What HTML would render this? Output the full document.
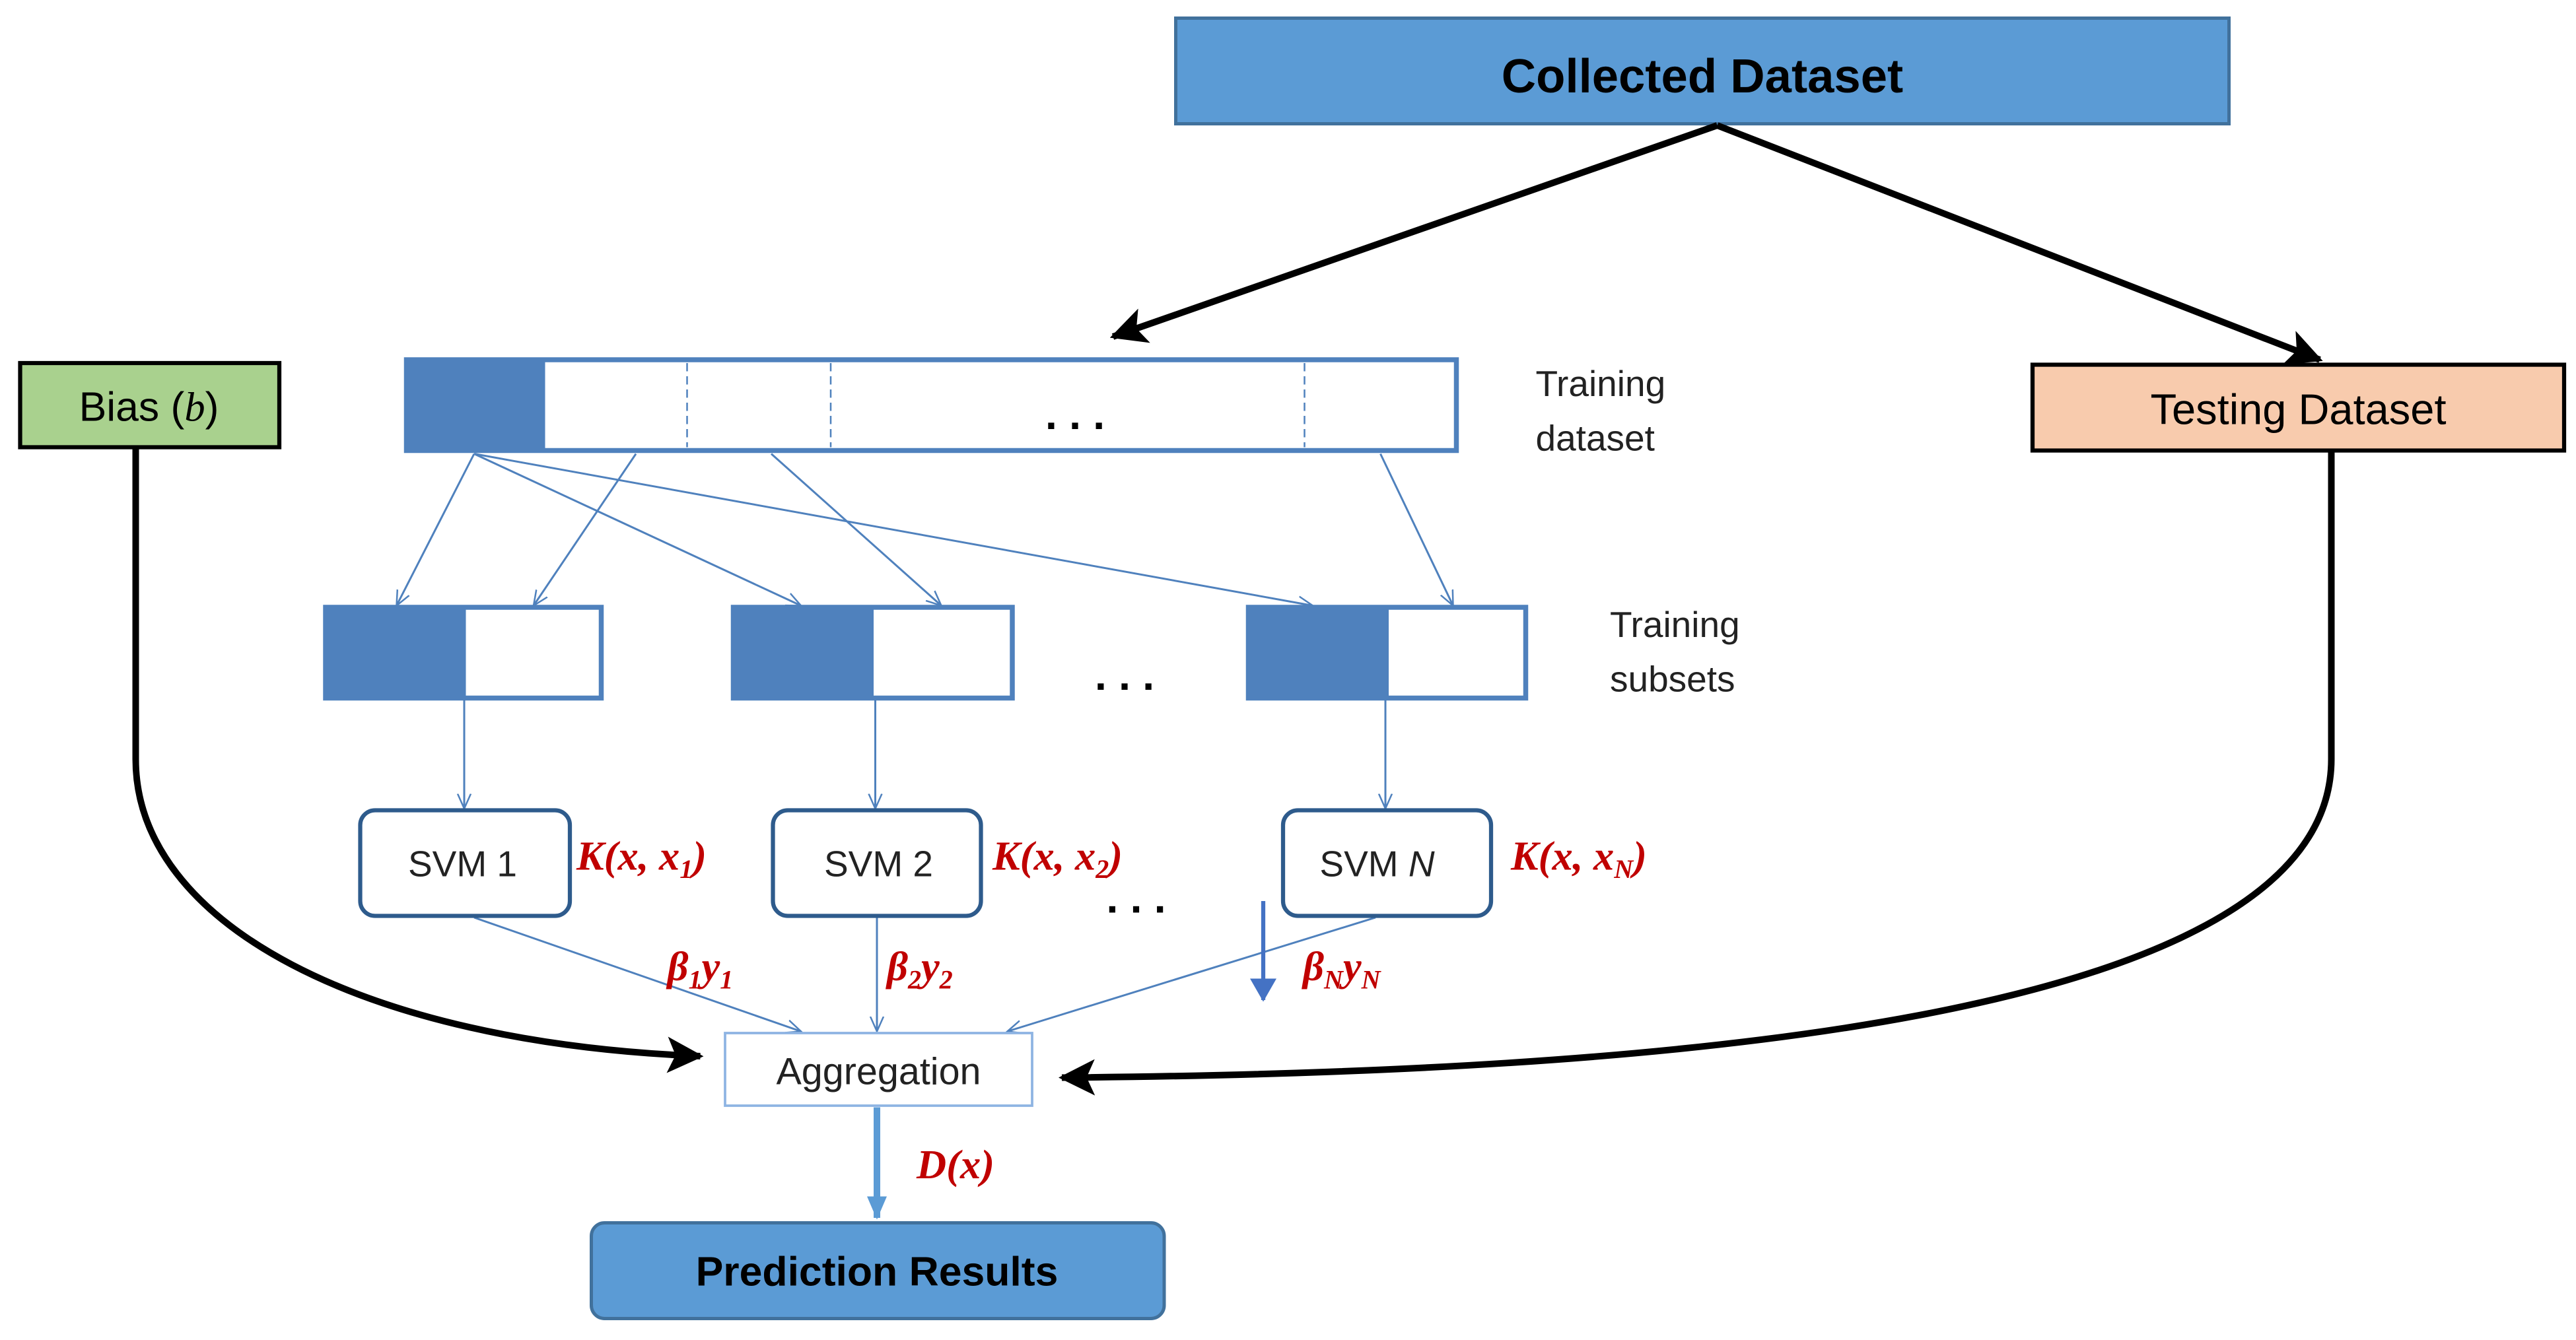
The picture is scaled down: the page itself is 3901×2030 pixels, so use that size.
<!DOCTYPE html>
<html><head><meta charset="utf-8"><style>
html,body{margin:0;padding:0;background:#fff;}
svg{display:block;}
text{font-family:"Liberation Sans",sans-serif;}
.m{font-family:"Liberation Serif",serif;font-style:italic;font-weight:bold;fill:#c00000;}
</style></head><body>
<svg width="3901" height="2030" viewBox="0 0 1560 812" xmlns="http://www.w3.org/2000/svg">
<defs>
<marker id="ab" markerWidth="10" markerHeight="10" refX="8" refY="5" orient="auto" markerUnits="userSpaceOnUse" viewBox="0 0 10 10"><path d="M0,0 L10,5 L0,10 L3,5z" fill="#000"/></marker>
<marker id="abig" markerWidth="22" markerHeight="22" refX="20" refY="11" orient="auto" markerUnits="userSpaceOnUse"><path d="M0,0 L22,11 L0,22 L5,11z" fill="#000"/></marker>
<marker id="tb" markerWidth="10" markerHeight="10" refX="9" refY="5" orient="auto" markerUnits="userSpaceOnUse"><path d="M0,1 L9,5 L0,9" fill="none" stroke="#4f81bd" stroke-width="1"/></marker>
<marker id="bb" markerWidth="14" markerHeight="20" refX="13" refY="10" orient="auto" markerUnits="userSpaceOnUse"><path d="M0,2 L14,10 L0,18z" fill="#4472c4"/></marker>
<marker id="bl" markerWidth="14" markerHeight="16" refX="13" refY="8" orient="auto" markerUnits="userSpaceOnUse"><path d="M0,2 L14,8 L0,14z" fill="#5b9bd5"/></marker>
</defs>

<!-- Collected Dataset -->
<rect x="712" y="11" width="638" height="64" fill="#5b9bd5" stroke="#41719c" stroke-width="2"/>
<text x="1031" y="56" font-size="29" font-weight="bold" text-anchor="middle" fill="#000">Collected Dataset</text>
<line x1="1040" y1="76" x2="674" y2="204" stroke="#000" stroke-width="4" marker-end="url(#abig)"/>
<line x1="1040" y1="76" x2="1405" y2="218" stroke="#000" stroke-width="4" marker-end="url(#abig)"/>

<!-- Bias -->
<rect x="12" y="220" width="157" height="51" fill="#a9d18e" stroke="#000" stroke-width="2.5"/>
<text x="90" y="255" font-size="25" text-anchor="middle">Bias (<tspan font-family="Liberation Serif" font-style="italic">b</tspan>)</text>
<!-- Testing -->
<rect x="1231" y="221" width="322" height="52" fill="#f8cbad" stroke="#000" stroke-width="2.5"/>
<text x="1392" y="257" font-size="26" text-anchor="middle">Testing Dataset</text>

<!-- Training dataset bar -->
<rect x="246" y="218" width="636" height="55" fill="#fff" stroke="#4f81bd" stroke-width="3"/>
<rect x="246" y="218" width="84" height="55" fill="#4f81bd"/>
<line x1="416" y1="220" x2="416" y2="271" stroke="#4f81bd" stroke-width="1" stroke-dasharray="5,3"/>
<line x1="503" y1="220" x2="503" y2="271" stroke="#4f81bd" stroke-width="1" stroke-dasharray="5,3"/>
<line x1="790" y1="220" x2="790" y2="271" stroke="#4f81bd" stroke-width="1" stroke-dasharray="5,3"/>
<text x="651" y="260" font-size="26" text-anchor="middle" font-weight="bold">. . .</text>
<text x="930" y="240" font-size="22" fill="#222">Training</text>
<text x="930" y="273" font-size="22" fill="#222">dataset</text>

<!-- thin arrows -->
<g stroke="#4f81bd" stroke-width="1.2" marker-end="url(#tb)">
<line x1="287" y1="275" x2="240" y2="367"/>
<line x1="287" y1="275" x2="485" y2="367"/>
<line x1="287" y1="275" x2="795" y2="367"/>
<line x1="385" y1="275" x2="323" y2="367"/>
<line x1="467" y1="275" x2="570" y2="367"/>
<line x1="836" y1="275" x2="880" y2="367"/>
<line x1="281" y1="423" x2="281" y2="490"/>
<line x1="530" y1="423" x2="530" y2="490"/>
<line x1="839" y1="423" x2="839" y2="490"/>
<line x1="287" y1="556" x2="485" y2="625"/>
<line x1="531" y1="556" x2="531" y2="625"/>
<line x1="833" y1="556" x2="610" y2="625"/>
</g>

<!-- subsets -->
<g stroke="#4f81bd" stroke-width="3">
<rect x="197" y="368" width="167" height="55" fill="#fff"/>
<rect x="444" y="368" width="169" height="55" fill="#fff"/>
<rect x="756" y="368" width="168" height="55" fill="#fff"/>
</g>
<rect x="197" y="368" width="85" height="55" fill="#4f81bd"/>
<rect x="444" y="368" width="85" height="55" fill="#4f81bd"/>
<rect x="756" y="368" width="85" height="55" fill="#4f81bd"/>
<text x="681" y="418" font-size="26" text-anchor="middle" font-weight="bold">. . .</text>
<text x="975" y="386" font-size="22" fill="#222">Training</text>
<text x="975" y="419" font-size="22" fill="#222">subsets</text>

<!-- SVMs -->
<g fill="#fff" stroke="#2e5b8c" stroke-width="2.5">
<rect x="218" y="491" width="127" height="64" rx="9"/>
<rect x="468" y="491" width="126" height="64" rx="9"/>
<rect x="777" y="491" width="126" height="64" rx="9"/>
</g>
<text x="280" y="531" font-size="22" text-anchor="middle" fill="#222">SVM 1</text>
<text x="532" y="531" font-size="22" text-anchor="middle" fill="#222">SVM 2</text>
<text x="834" y="531" font-size="22" text-anchor="middle" fill="#222">SVM <tspan font-style="italic">N</tspan></text>
<text x="688" y="553" font-size="26" text-anchor="middle" font-weight="bold">. . .</text>

<text class="m" x="349" y="527" font-size="25">K(x, x<tspan font-size="16" dy="5">1</tspan><tspan dy="-5">)</tspan></text>
<text class="m" x="601" y="527" font-size="25">K(x, x<tspan font-size="16" dy="5">2</tspan><tspan dy="-5">)</tspan></text>
<text class="m" x="915" y="527" font-size="25">K(x, x<tspan font-size="16" dy="5">N</tspan><tspan dy="-5">)</tspan></text>
<text class="m" x="404" y="594" font-size="25">β<tspan font-size="16" dy="5">1</tspan><tspan dy="-5">y</tspan><tspan font-size="16" dy="5">1</tspan></text>
<text class="m" x="537" y="594" font-size="25">β<tspan font-size="16" dy="5">2</tspan><tspan dy="-5">y</tspan><tspan font-size="16" dy="5">2</tspan></text>
<text class="m" x="789" y="594" font-size="25">β<tspan font-size="16" dy="5">N</tspan><tspan dy="-5">y</tspan><tspan font-size="16" dy="5">N</tspan></text>

<line x1="765" y1="546" x2="765" y2="606" stroke="#4472c4" stroke-width="2.5" marker-end="url(#bb)"/>

<!-- Aggregation -->
<rect x="439" y="626" width="186" height="44" fill="#fff" stroke="#8eb4e3" stroke-width="1.5"/>
<text x="532" y="657" font-size="23" text-anchor="middle" fill="#222">Aggregation</text>

<line x1="531" y1="671" x2="531" y2="738" stroke="#5b9bd5" stroke-width="4" marker-end="url(#bl)"/>
<text class="m" x="555" y="714" font-size="25">D(x)</text>

<!-- Prediction -->
<rect x="358" y="741" width="347" height="58" rx="8" fill="#5b9bd5" stroke="#41719c" stroke-width="2"/>
<text x="531" y="779" font-size="25" font-weight="bold" text-anchor="middle">Prediction Results</text>

<!-- curves -->
<path d="M82 272 L82 460 C82 560 220 632 424 640" fill="none" stroke="#000" stroke-width="4" marker-end="url(#abig)"/>
<path d="M1412 274 L1412 460 C1412 620 1000 650 643 653" fill="none" stroke="#000" stroke-width="4" marker-end="url(#abig)"/>
</svg>
</body></html>
